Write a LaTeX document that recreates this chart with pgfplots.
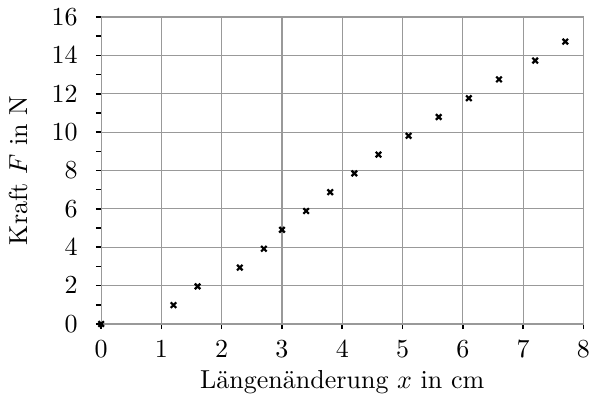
\documentclass[border=0pt]{standalone}
\usepackage{pgfplots}
\pgfplotsset{compat=1.18}
\begin{document}
\begin{tikzpicture}
\begin{axis}[
  scale only axis,
  width=185.4pt, height=118pt,
  xmin=0, xmax=8, ymin=0, ymax=16,
  xtick={0,1,...,8},
  ytick={0,2,...,16},
  minor ytick={1,3,...,15},
  tick align=outside,
  tick pos=left,
  major tick length=2pt,
  minor tick length=2pt,
  every tick/.style={black, line width=0.6pt},
  grid=major,
  major grid style={gray!80, line width=0.45pt},
  axis line style={gray!80, line width=0.45pt},
  yticklabel style={xshift=-3.5pt},
  xticklabel style={yshift=-1pt, inner xsep=1.2pt},
  xlabel={L\"angen\"anderung $x$ in cm},
  ylabel={Kraft $F$ in N},
  xlabel style={yshift=2pt},
  ylabel style={yshift=2.5pt},
]
\addplot[only marks, mark=x, mark size=1.5pt, black, line width=0.85pt] coordinates {
(0,0) (1.2,0.98) (1.6,1.96) (2.3,2.94) (2.7,3.92) (3.0,4.91) (3.4,5.89) (3.8,6.87)
(4.2,7.85) (4.6,8.83) (5.1,9.81) (5.6,10.79) (6.1,11.77) (6.6,12.75) (7.2,13.73) (7.7,14.72)
};
\end{axis}
\end{tikzpicture}
\end{document}
